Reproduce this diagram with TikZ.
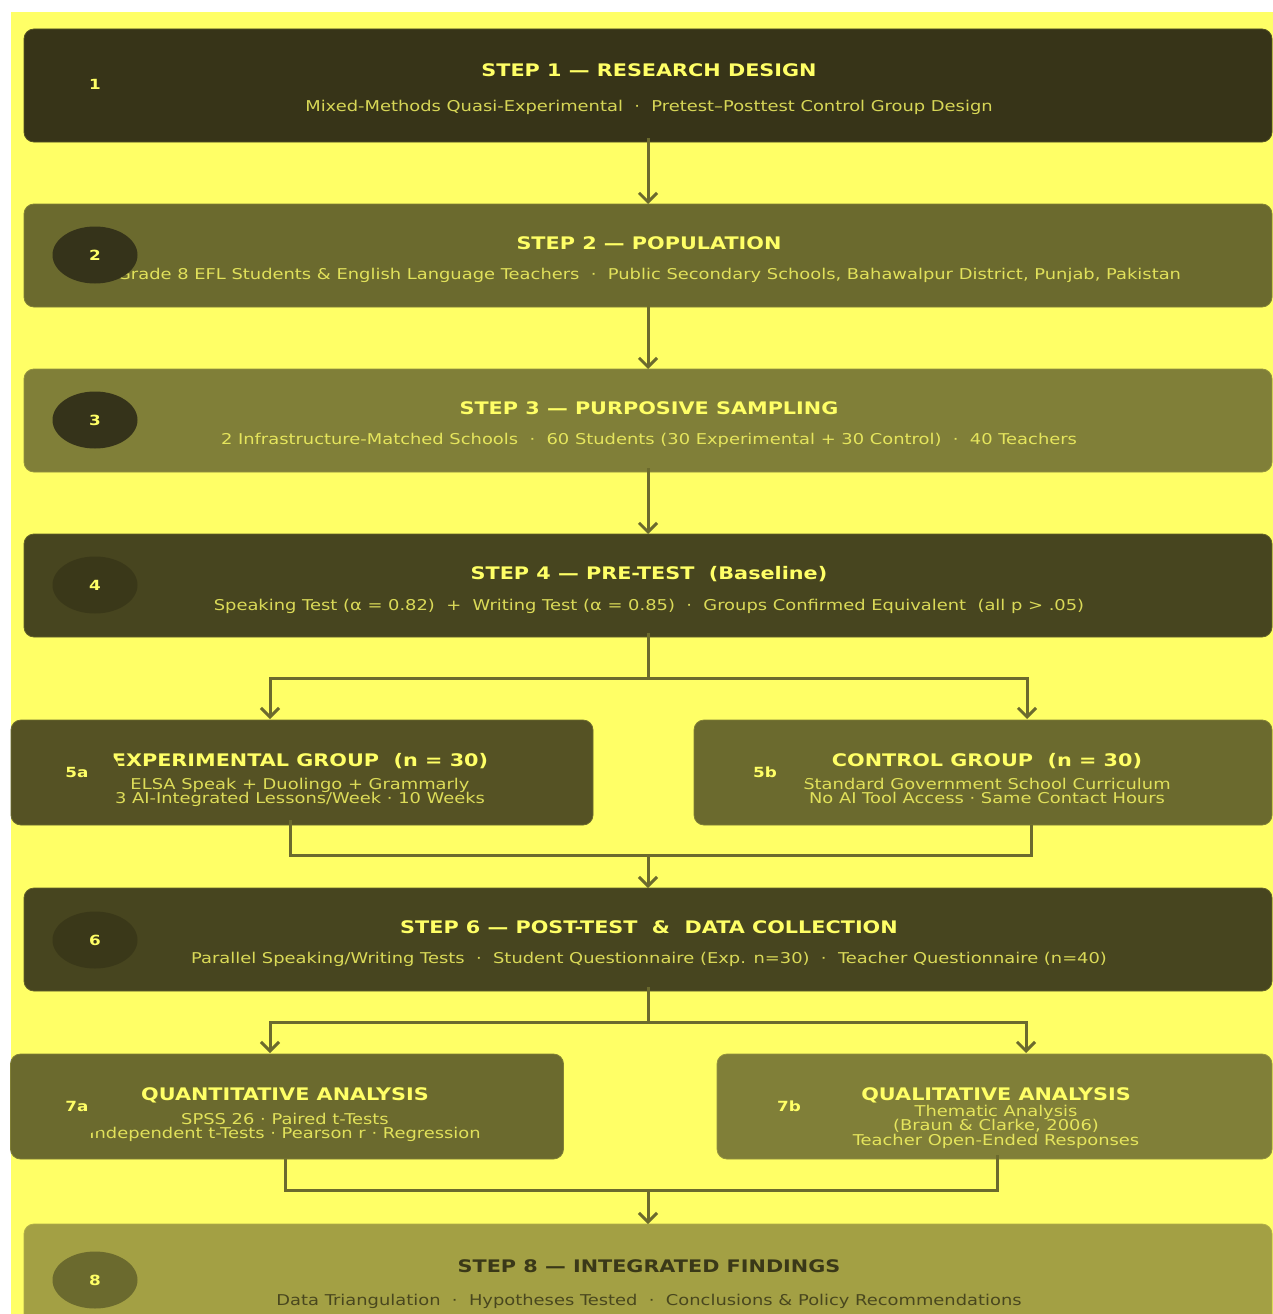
\documentclass[tikz,border=0pt]{standalone}
\usepackage{fontspec}
\setmainfont{DejaVu Sans}[FakeStretch=1.2]
\usetikzlibrary{arrows.meta,shapes.geometric}
\definecolor{bgy}{HTML}{FFFF66}
\definecolor{cA}{HTML}{373418}
\definecolor{cB}{HTML}{6B6A2E}
\definecolor{cC}{HTML}{807F38}
\definecolor{cD}{HTML}{47451F}
\definecolor{cE}{HTML}{555224}
\definecolor{cF}{HTML}{A3A044}
\definecolor{cK}{HTML}{35331A}
\definecolor{cL}{HTML}{3A3819}
\definecolor{txd}{HTML}{3A3818}
\tikzset{
  box/.style={rectangle, rounded corners=10pt, inner sep=0pt, outer sep=0pt, draw=#1!85!bgy, line width=0.8pt, fill=#1},
  ttl/.style={anchor=base, text=bgy, font=\fontsize{17.3}{20}\selectfont\bfseries, inner sep=0pt},
  sub/.style={anchor=base, text=bgy, text opacity=0.8, font=\fontsize{14.9}{16}\selectfont, inner sep=0pt},
  badge/.style={ellipse, fill=#1, minimum width=85pt, minimum height=57pt, inner sep=0pt, text=bgy, font=\fontsize{14}{16}\selectfont\bfseries},
  conn/.style={draw=cB, line width=3pt},
  arr/.style={conn, -{Straight Barb[length=9pt,width=18pt]}},
}
\begin{document}
\begin{tikzpicture}[x=1pt,y=-1pt]
\useasboundingbox (0,0) rectangle (1273,1314);
\clip (0,0) rectangle (1273,1314);
\fill[white] (0,0) rectangle (1273,1314);
\fill[bgy] (11,12) rectangle (1273,1314);

% Step 1
\node[box=cA, minimum width=1248pt, minimum height=113pt] (s1) at (648,85.5) {};
\node[ttl] (s1t) at (649,77) {STEP 1 — RESEARCH DESIGN};
\node[sub] (s1s) at (649,111) {Mixed-Methods Quasi-Experimental~~·~~Pretest–Posttest Control Group Design};
\node[badge=cA] (s1b) at (95,84) {1};

% Step 2
\node[box=cB, minimum width=1248pt, minimum height=103pt] (s2) at (648,255.5) {};
\node[ttl] (s2t) at (649,249) {STEP 2 — POPULATION};
\node[sub] (s2s) at (649,279) {Grade 8 EFL Students \& English Language Teachers~~·~~Public Secondary Schools, Bahawalpur District, Punjab, Pakistan};
\node[badge=cK] (s2b) at (95,255) {2};

% Step 3
\node[box=cC, minimum width=1248pt, minimum height=103pt] (s3) at (648,420.5) {};
\node[ttl] (s3t) at (649,414) {STEP 3 — PURPOSIVE SAMPLING};
\node[sub] (s3s) at (649,444) {2 Infrastructure-Matched Schools~~·~~60 Students (30 Experimental + 30 Control)~~·~~40 Teachers};
\node[badge=cK] (s3b) at (95,420) {3};

% Step 4
\node[box=cD, minimum width=1248pt, minimum height=103pt] (s4) at (648,585.5) {};
\node[ttl] (s4t) at (649,579) {STEP 4 — PRE-TEST~~(Baseline)};
\node[sub] (s4s) at (649,610) {Speaking Test (α = 0.82)~~+~~Writing Test (α = 0.85)~~·~~Groups Confirmed Equivalent~~(all p > .05)};
\node[badge=cL] (s4b) at (95,585) {4};

% 5a
\node[box=cE, minimum width=582pt, minimum height=105pt] (s5a) at (302,772.5) {};
\node[ttl] (s5at) at (300,766) {EXPERIMENTAL GROUP~~(n = 30)};
\node[sub] (s5as1) at (300,789) {ELSA Speak + Duolingo + Grammarly};
\node[sub] (s5as2) at (300,803) {3 AI-Integrated Lessons/Week · 10 Weeks};
\node[badge=cE] (s5ab) at (77,772) {5a};

% 5b
\node[box=cB, minimum width=578pt, minimum height=105pt] (s5b) at (983,772.5) {};
\node[ttl] (s5bt) at (987,766) {CONTROL GROUP~~(n = 30)};
\node[sub] (s5bs1) at (987,789) {Standard Government School Curriculum};
\node[sub] (s5bs2) at (987,803) {No AI Tool Access · Same Contact Hours};
\node[badge=cB] (s5bb) at (765,772) {5b};

% Step 6
\node[box=cD, minimum width=1248pt, minimum height=103pt] (s6) at (648,939.5) {};
\node[ttl] (s6t) at (649,933) {STEP 6 — POST-TEST~~\&~~DATA COLLECTION};
\node[sub] (s6s) at (649,963) {Parallel Speaking/Writing Tests~~·~~Student Questionnaire (Exp. n=30)~~·~~Teacher Questionnaire (n=40)};
\node[badge=cL] (s6b) at (95,940) {6};

% 7a
\node[box=cB, minimum width=553pt, minimum height=105pt] (s7a) at (287,1106.5) {};
\node[ttl] (s7at) at (285,1100) {QUANTITATIVE ANALYSIS};
\node[sub] (s7as1) at (285,1124) {SPSS 26 · Paired t-Tests};
\node[sub] (s7as2) at (285,1138) {Independent t-Tests · Pearson r · Regression};
\node[badge=cB] (s7ab) at (77,1106) {7a};

% 7b
\node[box=cC, minimum width=555pt, minimum height=105pt] (s7b) at (994.5,1106.5) {};
\node[ttl] (s7bt) at (996,1100) {QUALITATIVE ANALYSIS};
\node[sub] (s7bs1) at (996,1116) {Thematic Analysis};
\node[sub] (s7bs2) at (996,1130) {(Braun \& Clarke, 2006)};
\node[sub] (s7bs3) at (996,1145) {Teacher Open-Ended Responses};
\node[badge=cC] (s7bb) at (789,1106) {7b};

% Step 8
\node[box=cF, minimum width=1248pt, minimum height=103pt] (s8) at (648,1275.5) {};
\node[ttl, text=txd] (s8t) at (649,1272) {STEP 8 — INTEGRATED FINDINGS};
\node[sub, text=txd, text opacity=0.85] (s8s) at (649,1305) {Data Triangulation~~·~~Hypotheses Tested~~·~~Conclusions \& Policy Recommendations};
\node[badge=cB] (s8b) at (95,1280) {8};

% connectors
\draw[arr] ([yshift=4pt]s1.south) -- (s2.north);
\draw[arr] ([yshift=4pt]s2.south) -- (s3.north);
\draw[arr] ([yshift=4pt]s3.south) -- (s4.north);

\coordinate (f4) at (648,678);
\coordinate (a5a) at (270,719);
\coordinate (a5b) at (1027,719);
\draw[conn] ([yshift=4pt]s4.south) -- (f4);
\draw[arr] (f4) -| (a5a);
\draw[arr] (f4) -| (a5b);

\coordinate (m5a) at (290,820);
\coordinate (m5b) at (1031,825);
\coordinate (j5) at (648,855);
\draw[conn, line join=miter] (m5a) |- (j5) -| (m5b);
\draw[arr] (j5) -- (s6.north);

\coordinate (f6) at (648,1022);
\coordinate (a7a) at (270,1053);
\coordinate (a7b) at (1026,1053);
\draw[conn] ([yshift=4pt]s6.south) -- (f6);
\draw[arr] (f6) -| (a7a);
\draw[arr] (f6) -| (a7b);

\coordinate (m7a) at (285,1159);
\coordinate (m7b) at (997,1155);
\coordinate (j7) at (648,1190);
\draw[conn, line join=miter] (m7a) |- (j7) -| (m7b);
\draw[arr] (j7) -- (s8.north);
\end{tikzpicture}
\end{document}
